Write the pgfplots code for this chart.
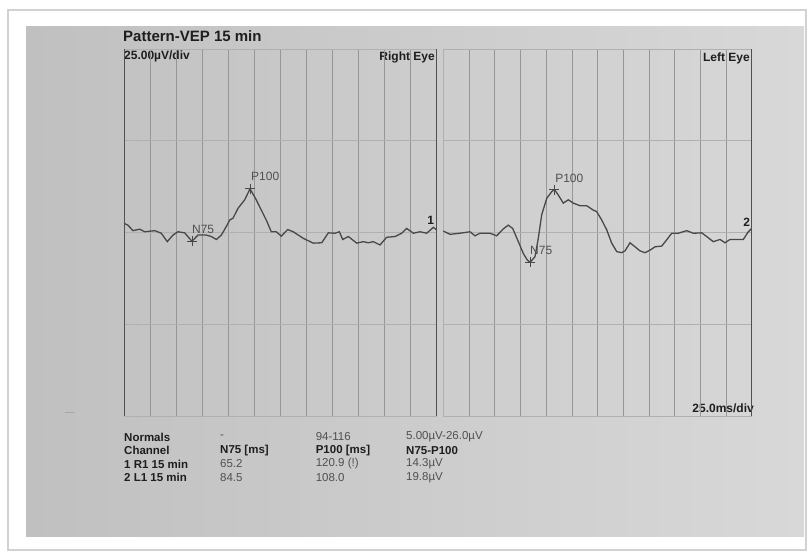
\documentclass[border=0pt]{standalone}
\usepackage{fontspec}
\setmainfont{Liberation Sans}
\usepackage{pgfplots}
\pgfplotsset{compat=1.18}
\definecolor{paperL}{RGB}{192,192,192}
\definecolor{paperR}{RGB}{216,216,216}
\definecolor{gridc}{RGB}{150,150,150}
\definecolor{hgridc}{RGB}{176,176,176}
\definecolor{spine}{RGB}{80,80,80}
\definecolor{trace}{RGB}{72,72,72}
\definecolor{txt}{RGB}{30,30,30}
\definecolor{txtl}{RGB}{80,80,80}
\pgfplotsset{vep/.style={
  scale only axis, anchor=south west, height=367pt,
  xmin=0,xmax=300,ymin=-50,ymax=50,
  xtick={0,25,...,300}, ytick={-25,0,25},
  xticklabels={}, yticklabels={}, major tick length=0pt,
  tick label style={opacity=0},
  grid=major,
  x grid style={draw=gridc, line width=0.6pt},
  y grid style={draw=hgridc, line width=0.5pt},
  axis line style={draw=hgridc, line width=0.6pt},
  clip=false,
}}
\begin{document}
\begin{tikzpicture}[x=1pt,y=1pt]
\fill[white] (0,0) rectangle (811,554);
\draw[gray!35, line width=1.5pt, fill=white] (8,4) rectangle (806,544);
\shade[left color=paperL, right color=paperR] (26,17) rectangle (804,527);
\draw[gray!70, line width=0.8pt] (65,142) -- (75,142);
% titles
\node[anchor=west, inner sep=0pt, text=txt, font=\fontsize{15}{18}\selectfont\bfseries] at (123,517.5) {Pattern-VEP 15 min};
\node[anchor=west, inner sep=0pt, text=txt, font=\fontsize{12}{14}\selectfont\bfseries] at (124,497.3) {25.00µV/div};
\node[anchor=east, inner sep=0pt, text=txt, font=\fontsize{12}{14}\selectfont\bfseries] at (435,497) {Right Eye};
\node[anchor=east, inner sep=0pt, text=txt, font=\fontsize{12}{14}\selectfont\bfseries] at (750,496) {Left Eye};
\node[anchor=east, inner sep=0pt, text=txt, font=\fontsize{12}{14}\selectfont\bfseries] at (754,146) {25.0ms/div};
% right eye
\begin{axis}[vep, at={(124pt,138pt)}, width=312.7pt]
\addplot[trace, line width=1.3pt] coordinates {(0,2.5) (3.8,2.0) (8.6,0.5) (15.1,0.9) (19.9,0.2) (29.5,0.5) (35.8,-0.2) (41.5,-2.5) (47.0,-0.7) (51.8,0.2) (58.2,-0.1) (65.2,-2.4) (71.0,-0.7) (79.0,-0.7) (83.8,-1.1) (88.6,-1.9) (93.4,-0.7) (98.1,1.6) (101.4,3.4) (104.6,3.9) (109.4,6.6) (115.8,8.9) (120.9,11.9) (126.9,8.9) (131.7,6.1) (136.5,3.4) (141.3,0.2) (146.1,0.2) (150.9,-1.0) (157.0,0.8) (162.4,0.2) (172.0,-1.6) (181.6,-2.9) (189.7,-2.8) (196.0,-0.1) (202.4,-0.2) (206.6,0.2) (209.8,-1.9) (215.2,-1.1) (223.3,-2.9) (229.6,-2.5) (234.4,-2.8) (239.2,-2.5) (245.6,-3.4) (252.0,-1.3) (260.0,-1.1) (266.4,-0.2) (271.2,1.1) (277.6,-0.2) (284.0,0.2) (290.4,-0.2) (296.8,1.4) (300,0.7)};
\addplot[only marks, mark=+, mark size=5pt, mark options={draw=trace, line width=0.8pt}] coordinates {(65.2,-2.4) (120.9,11.9)};
\node[anchor=west, inner sep=0pt, text=txtl, font=\fontsize{12}{14}\selectfont] at (axis cs:121.8,15.2) {P100};
\node[anchor=west, inner sep=0pt, text=txtl, font=\fontsize{12}{14}\selectfont] at (axis cs:65.2,0.9) {N75};
\node[inner sep=0pt, text=txt, font=\fontsize{12}{14}\selectfont\bfseries] at (axis cs:294.3,3.4) {1};
\draw[spine, line width=1pt] (rel axis cs:0,0) -- (rel axis cs:0,1);
\draw[spine, line width=1pt] (rel axis cs:1,0) -- (rel axis cs:1,1);
\end{axis}
% left eye
\begin{axis}[vep, at={(443.3pt,138pt)}, width=308.4pt]
\addplot[trace, line width=1.3pt] coordinates {(0,0.4) (6.5,-0.5) (16.2,-0.2) (26.0,0.2) (30.8,-0.9) (35.7,-0.2) (45.4,-0.2) (51.9,-0.9) (58.4,1.0) (63.2,2.0) (67.5,1.1) (73.0,-2.5) (77.8,-5.7) (81.7,-7.5) (84.5,-8.1) (89.2,-6.6) (92.4,-1.6) (95.7,4.8) (100.6,9.3) (105.4,11.1) (108.0,11.7) (111.9,10.2) (116.7,8.0) (121.6,8.9) (126.5,8.0) (133.0,7.3) (139.5,7.3) (145.9,6.1) (149.2,5.7) (154.1,3.4) (159.0,0.7) (163.8,-2.9) (168.7,-5.2) (173.5,-5.5) (176.8,-5.0) (181.6,-2.8) (186.5,-3.9) (191.3,-5.0) (196.2,-5.5) (201.1,-4.8) (206.0,-3.9) (212.5,-3.7) (217.3,-2.0) (222.2,-0.2) (228.6,-0.2) (236.8,0.5) (243.2,-0.2) (251.4,-0.1) (256.2,-1.1) (262.6,-2.5) (269.2,-1.9) (274.0,-2.8) (278.9,-1.9) (287.0,-1.9) (291.8,-1.9) (296.7,0.2) (300,1.1)};
\addplot[only marks, mark=+, mark size=5pt, mark options={draw=trace, line width=0.8pt}] coordinates {(84.5,-8.1) (108.0,11.7)};
\node[anchor=west, inner sep=0pt, text=txtl, font=\fontsize{12}{14}\selectfont] at (axis cs:108.7,14.8) {P100};
\node[anchor=west, inner sep=0pt, text=txtl, font=\fontsize{12}{14}\selectfont] at (axis cs:84.3,-4.8) {N75};
\node[inner sep=0pt, text=txt, font=\fontsize{12}{14}\selectfont\bfseries] at (axis cs:295.1,2.8) {2};
\draw[spine, line width=1pt] (rel axis cs:1,0) -- (rel axis cs:1,1);
\end{axis}
% table
\begin{scope}[every node/.style={anchor=west, inner sep=0pt, font=\fontsize{11.5}{13}\selectfont}]
\node[text=txt, font=\fontsize{11.5}{13}\selectfont\bfseries] at (124,117) {Normals};
\node[text=txtl] at (220,117) {-};
\node[text=txtl] at (315.6,117) {94-116};
\node[text=txtl] at (406,117) {5.00µV-26.0µV};
\node[text=txt, font=\fontsize{11.5}{13}\selectfont\bfseries] at (124,103.3) {Channel};
\node[text=txt, font=\fontsize{11.5}{13}\selectfont\bfseries] at (220,103.3) {N75 [ms]};
\node[text=txt, font=\fontsize{11.5}{13}\selectfont\bfseries] at (315.6,103.3) {P100 [ms]};
\node[text=txt, font=\fontsize{11.5}{13}\selectfont\bfseries] at (406,103.3) {N75-P100};
\node[text=txt, font=\fontsize{11.5}{13}\selectfont\bfseries] at (124,90) {1 R1 15 min};
\node[text=txtl] at (220,90) {65.2};
\node[text=txtl] at (315.6,90) {120.9 (!)};
\node[text=txtl] at (406,90) {14.3µV};
\node[text=txt, font=\fontsize{11.5}{13}\selectfont\bfseries] at (124,76.7) {2 L1 15 min};
\node[text=txtl] at (220,76.7) {84.5};
\node[text=txtl] at (315.6,76.7) {108.0};
\node[text=txtl] at (406,76.7) {19.8µV};
\end{scope}
\end{tikzpicture}
\end{document}
